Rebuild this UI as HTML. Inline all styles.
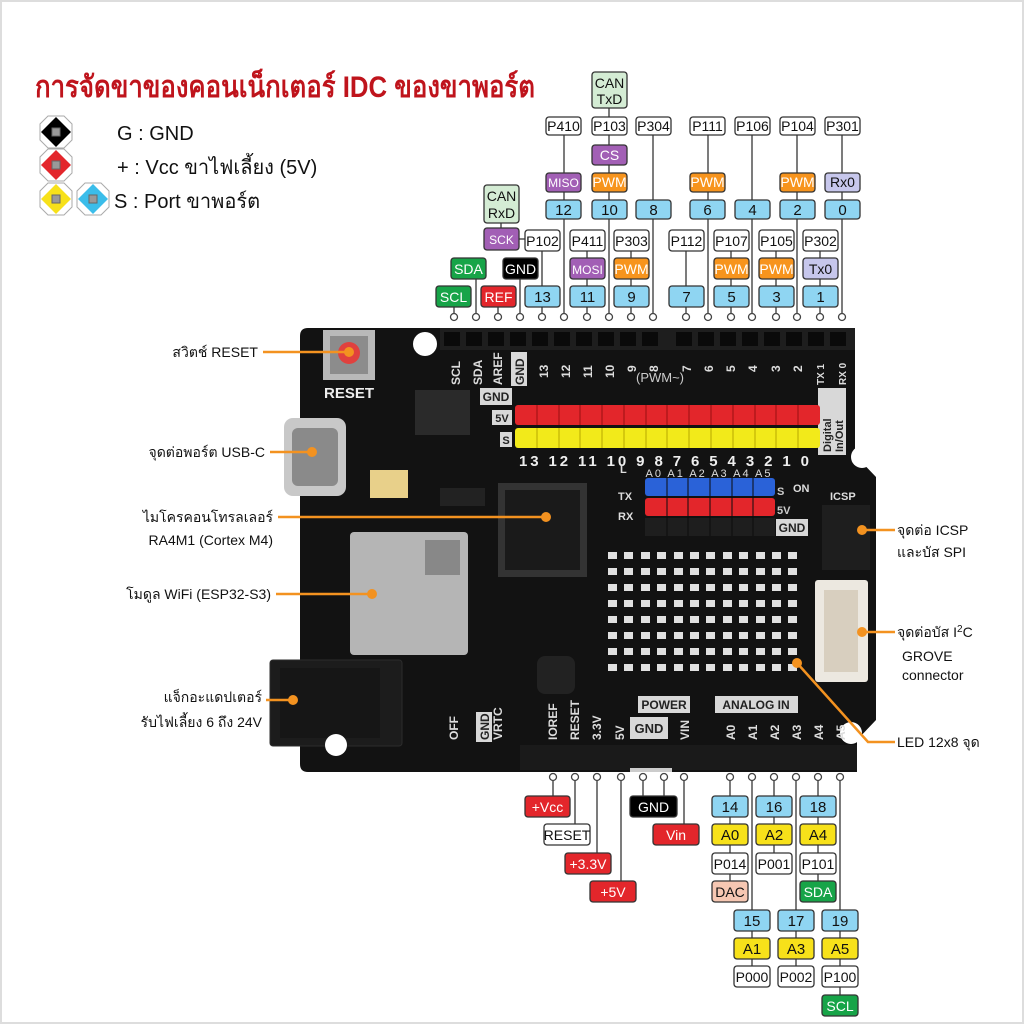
<!DOCTYPE html>
<html><head><meta charset="utf-8"><style>
html,body{margin:0;padding:0;background:#fff;}
svg{display:block;}
text{font-family:"Liberation Sans","DejaVu Sans","Noto Sans CJK SC",sans-serif;}
.bx{stroke:#333;stroke-width:1.3;}
.t{font-size:14px;text-anchor:middle;fill:#111;}
.ln{stroke:#444;stroke-width:1.4;fill:none;}
.or{stroke:#f39220;stroke-width:2.5;fill:none;}
.cl{font-size:14px;fill:#111;}
.rl{font-size:12px;fill:#ddd;font-weight:bold;}
</style></head><body>
<svg width="1024" height="1024" viewBox="0 0 1024 1024" xmlns="http://www.w3.org/2000/svg">
<rect x="1" y="1" width="1022" height="1022" fill="#fff" stroke="#ddd" stroke-width="2"/>

<text x="35" y="97" font-size="30" font-weight="bold" fill="#bf141c" textLength="500" lengthAdjust="spacingAndGlyphs">การจัดขาของคอนเน็กเตอร์ IDC ของขาพอร์ต</text>

<g>
<polygon points="48,116 64,116 72,124 72,140 64,148 48,148 40,140 40,124" fill="#fff" stroke="#aaa"/>
<polygon points="56,117 71,132 56,147 41,132" fill="#000"/><rect x="52" y="128" width="8" height="8" fill="#999" stroke="#666"/>
<polygon points="48,149 64,149 72,157 72,173 64,181 48,181 40,173 40,157" fill="#fff" stroke="#aaa"/>
<polygon points="56,150 71,165 56,180 41,165" fill="#e3262b"/><rect x="52" y="161" width="8" height="8" fill="#999" stroke="#666"/>
<polygon points="48,183 64,183 72,191 72,207 64,215 48,215 40,207 40,191" fill="#fff" stroke="#aaa"/>
<polygon points="56,184 71,199 56,214 41,199" fill="#f7e11a"/><rect x="52" y="195" width="8" height="8" fill="#999" stroke="#666"/>
<polygon points="85,183 101,183 109,191 109,207 101,215 85,215 77,207 77,191" fill="#fff" stroke="#aaa"/>
<polygon points="93,184 108,199 93,214 78,199" fill="#3bbdea"/><rect x="89" y="195" width="8" height="8" fill="#999" stroke="#666"/>
<text x="117" y="140" font-size="20" fill="#111">G : GND</text>
<text x="117" y="174" font-size="20" fill="#111">+ : Vcc ขาไฟเลี้ยง (5V)</text>
<text x="114" y="208" font-size="20" fill="#111">S : Port ขาพอร์ต</text>
</g>

<!-- Board -->
<path d="M300,336 Q300,328 308,328 L855,328 L855,455 L876,477 L876,720 L857,740 L857,772 L308,772 Q300,772 300,764 Z" fill="#121212"/>
<rect x="270" y="660" width="132" height="86" rx="3" fill="#1c1c1c" stroke="#2c2c2c"/>
<rect x="280" y="668" width="100" height="70" fill="#161616"/>
<rect x="440" y="328" width="415" height="22" fill="#1e1e1e"/>
<g fill="#0a0a0a">
<rect x="444" y="332" width="16" height="14"/><rect x="466" y="332" width="16" height="14"/><rect x="488" y="332" width="16" height="14"/><rect x="510" y="332" width="16" height="14"/><rect x="532" y="332" width="16" height="14"/><rect x="554" y="332" width="16" height="14"/><rect x="576" y="332" width="16" height="14"/><rect x="598" y="332" width="16" height="14"/><rect x="620" y="332" width="16" height="14"/><rect x="642" y="332" width="16" height="14"/><rect x="676" y="332" width="16" height="14"/><rect x="698" y="332" width="16" height="14"/><rect x="720" y="332" width="16" height="14"/><rect x="742" y="332" width="16" height="14"/><rect x="764" y="332" width="16" height="14"/><rect x="786" y="332" width="16" height="14"/><rect x="808" y="332" width="16" height="14"/><rect x="830" y="332" width="16" height="14"/>
</g>
<!-- rotated header labels -->
<g class="rl">
<text transform="translate(460,385) rotate(-90)">SCL</text>
<text transform="translate(482,385) rotate(-90)">SDA</text>
<text transform="translate(502,385) rotate(-90)">AREF</text>
<rect x="511" y="352" width="16" height="34" fill="#d8d8d8"/>
<text transform="translate(524,385) rotate(-90)" fill="#222">GND</text>
<text transform="translate(548,378) rotate(-90)">13</text>
<text transform="translate(570,378) rotate(-90)">12</text>
<text transform="translate(592,378) rotate(-90)">11</text>
<text transform="translate(614,378) rotate(-90)">10</text>
<text transform="translate(636,372) rotate(-90)">9</text>
<text transform="translate(658,372) rotate(-90)">8</text>
<text transform="translate(691,372) rotate(-90)">7</text>
<text transform="translate(713,372) rotate(-90)">6</text>
<text transform="translate(735,372) rotate(-90)">5</text>
<text transform="translate(757,372) rotate(-90)">4</text>
<text transform="translate(780,372) rotate(-90)">3</text>
<text transform="translate(802,372) rotate(-90)">2</text>
<text transform="translate(824,385) rotate(-90)" font-size="10">TX 1</text>
<text transform="translate(846,385) rotate(-90)" font-size="10">RX 0</text>
</g>
<circle cx="425" cy="344" r="12" fill="#fff"/>
<circle cx="862" cy="457" r="11" fill="#fff"/>
<circle cx="851" cy="733" r="11" fill="#fff"/>
<circle cx="336" cy="745" r="11" fill="#fff"/>
<rect x="323" y="330" width="52" height="50" fill="#b9b9b9"/>
<rect x="330" y="336" width="38" height="38" fill="#8c8c8c"/>
<circle cx="349" cy="353" r="11" fill="#e0413e"/>
<text x="324" y="398" font-size="15" font-weight="bold" fill="#eee">RESET</text>
<rect x="284" y="418" width="62" height="78" rx="9" fill="#c8c8c8"/>
<rect x="292" y="428" width="46" height="58" rx="6" fill="#8a8a8a"/>
<rect x="370" y="470" width="38" height="28" fill="#e8d08a"/>
<rect x="415" y="390" width="55" height="45" fill="#2a2a2a"/>
<rect x="440" y="488" width="45" height="18" fill="#222"/>
<rect x="480" y="388" width="32" height="17" fill="#d8d8d8"/><text x="496" y="401" font-size="12" font-weight="bold" fill="#222" text-anchor="middle">GND</text>
<rect x="492" y="410" width="20" height="15" fill="#d8d8d8"/><text x="502" y="422" font-size="11" font-weight="bold" fill="#222" text-anchor="middle">5V</text>
<rect x="500" y="432" width="12" height="15" fill="#d8d8d8"/><text x="506" y="444" font-size="11" font-weight="bold" fill="#222" text-anchor="middle">S</text>
<text x="660" y="382" font-size="13" fill="#ccc" text-anchor="middle">(PWM~)</text>
<rect x="818" y="388" width="28" height="67" fill="#d8d8d8"/>
<text transform="translate(831,452) rotate(-90)" font-size="11" font-weight="bold" fill="#222">Digital</text>
<text transform="translate(843,452) rotate(-90)" font-size="11" font-weight="bold" fill="#222">In/Out</text>
<!-- red/yellow rows with pins -->
<rect x="515" y="405" width="305" height="20" rx="3" fill="#e3262b"/>
<rect x="515" y="428" width="305" height="20" rx="3" fill="#f2ea1a"/>
<g stroke="#9a1010" stroke-width="1">
<line x1="537" y1="405" x2="537" y2="425"/><line x1="559" y1="405" x2="559" y2="425"/><line x1="580" y1="405" x2="580" y2="425"/><line x1="602" y1="405" x2="602" y2="425"/><line x1="624" y1="405" x2="624" y2="425"/><line x1="646" y1="405" x2="646" y2="425"/><line x1="667" y1="405" x2="667" y2="425"/><line x1="689" y1="405" x2="689" y2="425"/><line x1="711" y1="405" x2="711" y2="425"/><line x1="733" y1="405" x2="733" y2="425"/><line x1="755" y1="405" x2="755" y2="425"/><line x1="776" y1="405" x2="776" y2="425"/><line x1="798" y1="405" x2="798" y2="425"/>
</g>
<g stroke="#b8a800" stroke-width="1">
<line x1="537" y1="428" x2="537" y2="448"/><line x1="559" y1="428" x2="559" y2="448"/><line x1="580" y1="428" x2="580" y2="448"/><line x1="602" y1="428" x2="602" y2="448"/><line x1="624" y1="428" x2="624" y2="448"/><line x1="646" y1="428" x2="646" y2="448"/><line x1="667" y1="428" x2="667" y2="448"/><line x1="689" y1="428" x2="689" y2="448"/><line x1="711" y1="428" x2="711" y2="448"/><line x1="733" y1="428" x2="733" y2="448"/><line x1="755" y1="428" x2="755" y2="448"/><line x1="776" y1="428" x2="776" y2="448"/><line x1="798" y1="428" x2="798" y2="448"/>
</g>
<text x="664" y="466" font-size="15" font-weight="bold" fill="#eee" text-anchor="middle" textLength="290" lengthAdjust="spacing">13 12 11 10 9 8 7 6 5 4 3 2 1 0</text>
<text x="708" y="477" font-size="11" fill="#ddd" text-anchor="middle" textLength="125" lengthAdjust="spacing">A0 A1 A2 A3 A4 A5</text>
<rect x="645" y="478" width="130" height="18" rx="3" fill="#2a62d8"/>
<rect x="645" y="498" width="130" height="18" rx="3" fill="#e3262b"/>
<rect x="645" y="518" width="130" height="18" fill="#1e1e1e"/>
<g stroke="#0c0c0c" stroke-width="1">
<line x1="667" y1="478" x2="667" y2="536"/><line x1="688" y1="478" x2="688" y2="536"/><line x1="710" y1="478" x2="710" y2="536"/><line x1="732" y1="478" x2="732" y2="536"/><line x1="753" y1="478" x2="753" y2="536"/>
</g>
<rect x="776" y="519" width="32" height="17" fill="#d8d8d8"/><text x="792" y="532" font-size="12" font-weight="bold" fill="#222" text-anchor="middle">GND</text>
<text x="777" y="495" font-size="11" font-weight="bold" fill="#ccc">S</text>
<text x="777" y="514" font-size="11" font-weight="bold" fill="#ccc">5V</text>
<g font-size="11" font-weight="bold" fill="#ddd"><text x="620" y="473">L</text><text x="618" y="500">TX</text><text x="618" y="520">RX</text><text x="793" y="492">ON</text><text x="830" y="500">ICSP</text></g>
<rect x="498" y="483" width="89" height="94" fill="#333"/>
<rect x="505" y="490" width="75" height="80" fill="#1a1a1a"/>
<rect x="350" y="532" width="118" height="123" rx="4" fill="#b5b5b5"/>
<rect x="425" y="540" width="35" height="35" fill="#888"/>
<rect x="537" y="656" width="38" height="38" rx="8" fill="#222"/>
<defs><g id="row"><rect x="608" y="552" width="9" height="7"/><rect x="624" y="552" width="9" height="7"/><rect x="641" y="552" width="9" height="7"/><rect x="657" y="552" width="9" height="7"/><rect x="674" y="552" width="9" height="7"/><rect x="690" y="552" width="9" height="7"/><rect x="706" y="552" width="9" height="7"/><rect x="723" y="552" width="9" height="7"/><rect x="739" y="552" width="9" height="7"/><rect x="756" y="552" width="9" height="7"/><rect x="772" y="552" width="9" height="7"/><rect x="788" y="552" width="9" height="7"/></g></defs>
<g fill="#e0e0e0">
<use href="#row"/><use href="#row" transform="translate(0,16)"/><use href="#row" transform="translate(0,32)"/><use href="#row" transform="translate(0,48)"/><use href="#row" transform="translate(0,64)"/><use href="#row" transform="translate(0,80)"/><use href="#row" transform="translate(0,96)"/><use href="#row" transform="translate(0,112)"/>
</g>
<rect x="815" y="580" width="53" height="102" rx="3" fill="#ece8e0"/>
<rect x="824" y="590" width="34" height="82" fill="#d8cfbf"/>
<rect x="822" y="505" width="48" height="65" fill="#1e1e1e"/>
<rect x="638" y="696" width="52" height="17" fill="#d8d8d8"/><text x="664" y="709" font-size="12" font-weight="bold" fill="#222" text-anchor="middle">POWER</text>
<rect x="715" y="696" width="83" height="17" fill="#d8d8d8"/><text x="756" y="709" font-size="12" font-weight="bold" fill="#222" text-anchor="middle">ANALOG IN</text>
<rect x="630" y="717" width="38" height="22" fill="#d8d8d8"/><text x="649" y="733" font-size="13" font-weight="bold" fill="#222" text-anchor="middle">GND</text>
<g class="rl" font-size="11">
<text transform="translate(557,740) rotate(-90)">IOREF</text>
<text transform="translate(579,740) rotate(-90)">RESET</text>
<text transform="translate(601,740) rotate(-90)">3.3V</text>
<text transform="translate(624,740) rotate(-90)">5V</text>
<text transform="translate(689,740) rotate(-90)">VIN</text>
<text transform="translate(735,740) rotate(-90)">A0</text>
<text transform="translate(757,740) rotate(-90)">A1</text>
<text transform="translate(779,740) rotate(-90)">A2</text>
<text transform="translate(801,740) rotate(-90)">A3</text>
<text transform="translate(823,740) rotate(-90)">A4</text>
<text transform="translate(845,740) rotate(-90)">A5</text>
<text transform="translate(458,740) rotate(-90)">OFF</text>
<rect x="476" y="712" width="16" height="30" fill="#d8d8d8"/>
<text transform="translate(489,740) rotate(-90)" fill="#222">GND</text>
<text transform="translate(502,740) rotate(-90)">VRTC</text>
</g>
<rect x="520" y="745" width="337" height="25" fill="#1a1a1a"/>
<rect x="630" y="768" width="42" height="4" fill="#ccc"/>

<!-- Top connector lines -->
<g class="ln">
<line x1="454" y1="307" x2="454" y2="313"/><line x1="476" y1="279" x2="476" y2="313"/><line x1="498" y1="307" x2="498" y2="313"/><line x1="520" y1="279" x2="520" y2="313"/>
<line x1="542" y1="251" x2="542" y2="313"/><line x1="564" y1="135" x2="564" y2="313"/><line x1="587" y1="251" x2="587" y2="313"/><line x1="609" y1="108" x2="609" y2="313"/>
<line x1="631" y1="251" x2="631" y2="313"/><line x1="653" y1="135" x2="653" y2="313"/><line x1="686" y1="251" x2="686" y2="313"/><line x1="708" y1="135" x2="708" y2="313"/>
<line x1="731" y1="251" x2="731" y2="313"/><line x1="752" y1="135" x2="752" y2="313"/><line x1="776" y1="251" x2="776" y2="313"/><line x1="797" y1="135" x2="797" y2="313"/>
<line x1="820" y1="251" x2="820" y2="313"/><line x1="842" y1="135" x2="842" y2="313"/>
<line x1="501" y1="223" x2="501" y2="228"/><line x1="519" y1="239" x2="525" y2="239"/>
</g>
<g fill="#fff" stroke="#444" stroke-width="1.3">
<circle cx="454" cy="317" r="3.5"/><circle cx="476" cy="317" r="3.5"/><circle cx="498" cy="317" r="3.5"/><circle cx="520" cy="317" r="3.5"/><circle cx="542" cy="317" r="3.5"/><circle cx="564" cy="317" r="3.5"/><circle cx="587" cy="317" r="3.5"/><circle cx="609" cy="317" r="3.5"/><circle cx="631" cy="317" r="3.5"/><circle cx="653" cy="317" r="3.5"/><circle cx="686" cy="317" r="3.5"/><circle cx="708" cy="317" r="3.5"/><circle cx="731" cy="317" r="3.5"/><circle cx="752" cy="317" r="3.5"/><circle cx="776" cy="317" r="3.5"/><circle cx="797" cy="317" r="3.5"/><circle cx="820" cy="317" r="3.5"/><circle cx="842" cy="317" r="3.5"/>
</g>

<g class="bx">
<rect x="592" y="72" width="35" height="36" rx="3" fill="#d4ecd4"/>
<rect x="546" y="117" width="35" height="18" rx="3" fill="#fff"/><rect x="592" y="117" width="35" height="18" rx="3" fill="#fff"/><rect x="636" y="117" width="35" height="18" rx="3" fill="#fff"/><rect x="690" y="117" width="35" height="18" rx="3" fill="#fff"/><rect x="735" y="117" width="35" height="18" rx="3" fill="#fff"/><rect x="780" y="117" width="35" height="18" rx="3" fill="#fff"/><rect x="825" y="117" width="35" height="18" rx="3" fill="#fff"/>
<rect x="592" y="145" width="35" height="20" rx="3" fill="#a25fb5"/>
<rect x="546" y="173" width="35" height="19" rx="3" fill="#a25fb5"/><rect x="592" y="173" width="35" height="19" rx="3" fill="#f7941d"/><rect x="690" y="173" width="35" height="19" rx="3" fill="#f7941d"/><rect x="780" y="173" width="35" height="19" rx="3" fill="#f7941d"/><rect x="825" y="173" width="35" height="19" rx="3" fill="#c7c7ec"/>
<rect x="546" y="200" width="35" height="19" rx="3" fill="#8fd5f2"/><rect x="592" y="200" width="35" height="19" rx="3" fill="#8fd5f2"/><rect x="636" y="200" width="35" height="19" rx="3" fill="#8fd5f2"/><rect x="690" y="200" width="35" height="19" rx="3" fill="#8fd5f2"/><rect x="735" y="200" width="35" height="19" rx="3" fill="#8fd5f2"/><rect x="780" y="200" width="35" height="19" rx="3" fill="#8fd5f2"/><rect x="825" y="200" width="35" height="19" rx="3" fill="#8fd5f2"/>
<rect x="484" y="185" width="35" height="38" rx="3" fill="#d4ecd4"/>
<rect x="484" y="228" width="35" height="22" rx="3" fill="#a25fb5"/>
<rect x="525" y="230" width="35" height="21" rx="3" fill="#fff"/><rect x="570" y="230" width="35" height="21" rx="3" fill="#fff"/><rect x="614" y="230" width="35" height="21" rx="3" fill="#fff"/><rect x="669" y="230" width="35" height="21" rx="3" fill="#fff"/><rect x="714" y="230" width="35" height="21" rx="3" fill="#fff"/><rect x="759" y="230" width="35" height="21" rx="3" fill="#fff"/><rect x="803" y="230" width="35" height="21" rx="3" fill="#fff"/>
<rect x="451" y="258" width="35" height="21" rx="3" fill="#17a448"/><rect x="503" y="258" width="35" height="21" rx="3" fill="#000"/>
<rect x="570" y="258" width="35" height="21" rx="3" fill="#a25fb5"/><rect x="614" y="258" width="35" height="21" rx="3" fill="#f7941d"/><rect x="714" y="258" width="35" height="21" rx="3" fill="#f7941d"/><rect x="759" y="258" width="35" height="21" rx="3" fill="#f7941d"/><rect x="803" y="258" width="35" height="21" rx="3" fill="#c7c7ec"/>
<rect x="436" y="286" width="35" height="21" rx="3" fill="#17a448"/><rect x="481" y="286" width="35" height="21" rx="3" fill="#e3262b"/>
<rect x="525" y="286" width="35" height="21" rx="3" fill="#8fd5f2"/><rect x="570" y="286" width="35" height="21" rx="3" fill="#8fd5f2"/><rect x="614" y="286" width="35" height="21" rx="3" fill="#8fd5f2"/><rect x="669" y="286" width="35" height="21" rx="3" fill="#8fd5f2"/><rect x="714" y="286" width="35" height="21" rx="3" fill="#8fd5f2"/><rect x="759" y="286" width="35" height="21" rx="3" fill="#8fd5f2"/><rect x="803" y="286" width="35" height="21" rx="3" fill="#8fd5f2"/>
</g>
<g class="t">
<text x="609.5" y="88">CAN</text><text x="609.5" y="104">TxD</text>
<text x="563.5" y="131">P410</text><text x="609.5" y="131">P103</text><text x="653.5" y="131">P304</text><text x="707.5" y="131">P111</text><text x="752.5" y="131">P106</text><text x="797.5" y="131">P104</text><text x="842.5" y="131">P301</text>
<text x="609.5" y="160" fill="#fff">CS</text>
<text x="563.5" y="187" font-size="12" fill="#fff">MISO</text><text x="609.5" y="187" fill="#fff">PWM</text><text x="707.5" y="187" fill="#fff">PWM</text><text x="797.5" y="187" fill="#fff">PWM</text><text x="842.5" y="187">Rx0</text>
<text x="563.5" y="215" font-size="15">12</text><text x="609.5" y="215" font-size="15">10</text><text x="653.5" y="215" font-size="15">8</text><text x="707.5" y="215" font-size="15">6</text><text x="752.5" y="215" font-size="15">4</text><text x="797.5" y="215" font-size="15">2</text><text x="842.5" y="215" font-size="15">0</text>
<text x="501.5" y="201">CAN</text><text x="501.5" y="218">RxD</text>
<text x="501.5" y="244" font-size="12" fill="#fff">SCK</text>
<text x="542.5" y="246">P102</text><text x="587.5" y="246">P411</text><text x="631.5" y="246">P303</text><text x="686.5" y="246">P112</text><text x="731.5" y="246">P107</text><text x="776.5" y="246">P105</text><text x="820.5" y="246">P302</text>
<text x="468.5" y="274" fill="#fff">SDA</text><text x="520.5" y="274" fill="#fff">GND</text>
<text x="587.5" y="274" font-size="12" fill="#fff">MOSI</text><text x="631.5" y="274" fill="#fff">PWM</text><text x="731.5" y="274" fill="#fff">PWM</text><text x="776.5" y="274" fill="#fff">PWM</text><text x="820.5" y="274">Tx0</text>
<text x="453.5" y="302" fill="#fff">SCL</text><text x="498.5" y="302" fill="#fff">REF</text>
<text x="542.5" y="302" font-size="15">13</text><text x="587.5" y="302" font-size="15">11</text><text x="631.5" y="302" font-size="15">9</text><text x="686.5" y="302" font-size="15">7</text><text x="731.5" y="302" font-size="15">5</text><text x="776.5" y="302" font-size="15">3</text><text x="820.5" y="302" font-size="15">1</text>
</g>

<g class="ln">
<line x1="553" y1="781" x2="553" y2="796"/><line x1="575" y1="781" x2="575" y2="824"/><line x1="597" y1="781" x2="597" y2="853"/><line x1="621" y1="781" x2="621" y2="881"/>
<line x1="643" y1="781" x2="643" y2="796"/><line x1="664" y1="781" x2="664" y2="796"/><line x1="684" y1="781" x2="684" y2="824"/>
<line x1="730" y1="781" x2="730" y2="881"/><line x1="752" y1="781" x2="752" y2="966"/><line x1="774" y1="781" x2="774" y2="853"/>
<line x1="796" y1="781" x2="796" y2="966"/><line x1="818" y1="781" x2="818" y2="881"/><line x1="840" y1="781" x2="840" y2="995"/>
</g>
<g fill="#fff" stroke="#444" stroke-width="1.3">
<circle cx="553" cy="777" r="3.5"/><circle cx="575" cy="777" r="3.5"/><circle cx="597" cy="777" r="3.5"/><circle cx="621" cy="777" r="3.5"/><circle cx="643" cy="777" r="3.5"/><circle cx="664" cy="777" r="3.5"/><circle cx="684" cy="777" r="3.5"/><circle cx="730" cy="777" r="3.5"/><circle cx="752" cy="777" r="3.5"/><circle cx="774" cy="777" r="3.5"/><circle cx="796" cy="777" r="3.5"/><circle cx="818" cy="777" r="3.5"/><circle cx="840" cy="777" r="3.5"/>
</g>
<g class="bx">
<rect x="525" y="796" width="45" height="21" rx="3" fill="#e3262b"/>
<rect x="544" y="824" width="46" height="21" rx="3" fill="#fff"/>
<rect x="565" y="853" width="46" height="21" rx="3" fill="#e3262b"/>
<rect x="590" y="881" width="46" height="21" rx="3" fill="#e3262b"/>
<rect x="630" y="796" width="47" height="21" rx="3" fill="#000"/>
<rect x="653" y="824" width="46" height="21" rx="3" fill="#e3262b"/>
<rect x="712" y="796" width="36" height="21" rx="3" fill="#8fd5f2"/><rect x="756" y="796" width="36" height="21" rx="3" fill="#8fd5f2"/><rect x="800" y="796" width="36" height="21" rx="3" fill="#8fd5f2"/>
<rect x="712" y="824" width="36" height="21" rx="3" fill="#f7e11a"/><rect x="756" y="824" width="36" height="21" rx="3" fill="#f7e11a"/><rect x="800" y="824" width="36" height="21" rx="3" fill="#f7e11a"/>
<rect x="712" y="853" width="36" height="21" rx="3" fill="#fff"/><rect x="756" y="853" width="36" height="21" rx="3" fill="#fff"/><rect x="800" y="853" width="36" height="21" rx="3" fill="#fff"/>
<rect x="712" y="881" width="36" height="21" rx="3" fill="#f6c7b2"/><rect x="800" y="881" width="36" height="21" rx="3" fill="#17a448"/>
<rect x="734" y="910" width="36" height="21" rx="3" fill="#8fd5f2"/><rect x="778" y="910" width="36" height="21" rx="3" fill="#8fd5f2"/><rect x="822" y="910" width="36" height="21" rx="3" fill="#8fd5f2"/>
<rect x="734" y="938" width="36" height="21" rx="3" fill="#f7e11a"/><rect x="778" y="938" width="36" height="21" rx="3" fill="#f7e11a"/><rect x="822" y="938" width="36" height="21" rx="3" fill="#f7e11a"/>
<rect x="734" y="966" width="36" height="21" rx="3" fill="#fff"/><rect x="778" y="966" width="36" height="21" rx="3" fill="#fff"/><rect x="822" y="966" width="36" height="21" rx="3" fill="#fff"/>
<rect x="822" y="995" width="36" height="21" rx="3" fill="#17a448"/>
</g>
<g class="t">
<text x="547.5" y="812" fill="#fff">+Vcc</text><text x="567" y="840">RESET</text><text x="588" y="869" fill="#fff">+3.3V</text><text x="613" y="897" fill="#fff">+5V</text>
<text x="653.5" y="812" fill="#fff">GND</text><text x="676" y="840" fill="#fff">Vin</text>
<text x="730" y="812" font-size="15">14</text><text x="774" y="812" font-size="15">16</text><text x="818" y="812" font-size="15">18</text>
<text x="730" y="840" font-size="15">A0</text><text x="774" y="840" font-size="15">A2</text><text x="818" y="840" font-size="15">A4</text>
<text x="730" y="869">P014</text><text x="774" y="869">P001</text><text x="818" y="869">P101</text>
<text x="730" y="897">DAC</text><text x="818" y="897" fill="#fff">SDA</text>
<text x="752" y="926" font-size="15">15</text><text x="796" y="926" font-size="15">17</text><text x="840" y="926" font-size="15">19</text>
<text x="752" y="954" font-size="15">A1</text><text x="796" y="954" font-size="15">A3</text><text x="840" y="954" font-size="15">A5</text>
<text x="752" y="982">P000</text><text x="796" y="982">P002</text><text x="840" y="982">P100</text>
<text x="840" y="1011" fill="#fff">SCL</text>
</g>

<g class="or">
<line x1="263" y1="352" x2="349" y2="352"/>
<line x1="270" y1="452" x2="312" y2="452"/>
<line x1="278" y1="517" x2="546" y2="517"/>
<line x1="276" y1="594" x2="372" y2="594"/>
<line x1="266" y1="700" x2="293" y2="700"/>
<line x1="862" y1="530" x2="895" y2="530"/>
<line x1="862" y1="632" x2="895" y2="632"/>
<polyline points="797,663 868,742 895,742"/>
</g>
<g fill="#f39220">
<circle cx="349" cy="352" r="5"/><circle cx="312" cy="452" r="5"/><circle cx="546" cy="517" r="5"/><circle cx="372" cy="594" r="5"/><circle cx="293" cy="700" r="5"/><circle cx="862" cy="530" r="5"/><circle cx="862" cy="632" r="5"/><circle cx="797" cy="663" r="5"/>
</g>
<g class="cl" text-anchor="end">
<text x="258" y="357">สวิตช์ RESET</text>
<text x="265" y="457">จุดต่อพอร์ต USB-C</text>
<text x="273" y="522">ไมโครคอนโทรลเลอร์</text>
<text x="273" y="545">RA4M1 (Cortex M4)</text>
<text x="271" y="599">โมดูล WiFi (ESP32-S3)</text>
<text x="262" y="702">แจ็กอะแดปเตอร์</text>
<text x="262" y="727">รับไฟเลี้ยง 6 ถึง 24V</text>
</g>
<g class="cl">
<text x="897" y="535">จุดต่อ ICSP</text>
<text x="897" y="557">และบัส SPI</text>
<text x="897" y="637">จุดต่อบัส I<tspan font-size="10" dy="-5">2</tspan><tspan dy="5">C</tspan></text>
<text x="902" y="661">GROVE</text>
<text x="902" y="680">connector</text>
<text x="897" y="747">LED 12x8 จุด</text>
</g>
</svg>
</body></html>
